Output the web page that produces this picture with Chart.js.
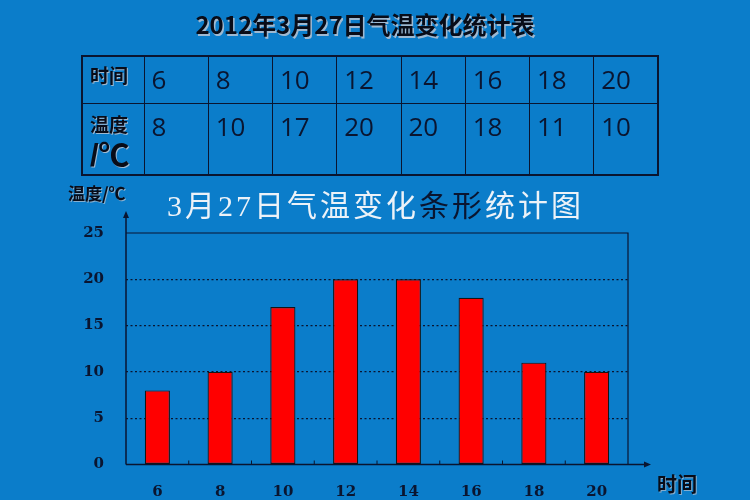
<!DOCTYPE html>
<html><head><meta charset="utf-8">
<script src="https://cdn.jsdelivr.net/npm/chart.js@4.4.1/dist/chart.umd.min.js"></script>
<style>
html,body{margin:0;padding:0;background:#0b7dca;width:750px;height:500px;overflow:hidden;}
#wrap{position:relative;width:750px;height:500px;}
canvas{position:absolute;left:0;top:0;}
.t1{position:absolute;left:0;width:730px;top:9px;text-align:center;font-family:"Noto Sans CJK SC";font-weight:bold;font-size:24px;line-height:30px;color:#080c18;text-shadow:1.5px 1.5px 0 rgba(185,195,210,.85);white-space:nowrap;}
table{position:absolute;left:81px;top:55px;width:578px;height:121px;border-collapse:collapse;table-layout:fixed;border:2px solid #0a1530;}
td{border:1px solid #0a1530;vertical-align:top;padding:0;font-family:"Open Sans";font-size:26px;line-height:26px;color:#0a1530;}
td.v{padding-left:7px;}
tr.r1 td{height:37px;padding-top:9px;}
tr.r1 td.h{height:39px;padding-top:7px;}
tr.r2 td{padding-top:9px;}
td.h{font-family:"Noto Sans CJK SC";font-weight:bold;font-size:19px;line-height:22px;color:#080c18;text-shadow:1px 1px 0 rgba(185,195,210,.85);padding-left:7px;}
.big{display:inline-block;margin-top:3px;font-size:31px;line-height:36px;font-family:"Liberation Sans","Noto Sans CJK SC";font-weight:bold;}
.ylab{position:absolute;left:68px;top:183px;font-family:"Noto Sans CJK SC";font-weight:bold;font-size:17px;line-height:20px;color:#080c18;text-shadow:1px 1px 0 rgba(185,195,210,.7);white-space:nowrap;}
.xlab{position:absolute;left:657px;top:471px;font-family:"Noto Sans CJK SC";font-weight:bold;font-size:20px;line-height:26px;color:#080c18;text-shadow:1px 1px 0 rgba(185,195,210,.7);white-space:nowrap;}
</style>
</head><body>
<div id="wrap">
<canvas id="c" width="750" height="500"></canvas>
<div class="t1">2012年3月27日气温变化统计表</div>
<table id="tbl"></table>
<div class="ylab">温度/℃</div>
<div class="xlab">时间</div>
</div>
<script>
const hours = ['6','8','10','12','14','16','18','20'];
const temps = [8, 10, 17, 20, 20, 18, 11, 10];
const yMax = 25;
const yStep = 5;
const dark = '#0a1530';
// chart title split into coloured parts
const titleParts = [['3月27日气温变化', 'rgb(236,242,248)'], ['条形', dark], ['统计图', 'rgb(236,242,248)']];

// build table from the data arrays
const tbl = document.getElementById('tbl');
let cg = '<colgroup><col style="width:62px">' + hours.map(()=>'<col>').join('') + '</colgroup>';
let r1 = '<tr class="r1"><td class="h">时间</td>' + hours.map(h=>'<td class="v">'+h+'</td>').join('') + '</tr>';
let r2 = '<tr class="r2"><td class="h">温度<br><span class="big">/℃</span></td>' + temps.map(t=>'<td class="v">'+t+'</td>').join('') + '</tr>';
tbl.innerHTML = cg + r1 + r2;

const titlePlugin = {
  id: 'multiTitle',
  afterDraw(chart) {
    const ctx = chart.ctx;
    ctx.save();
    ctx.font = '30px "Liberation Serif", "Noto Sans CJK SC"';
    ctx.textBaseline = 'alphabetic';
    ctx.textAlign = 'left';
    let x = 167;
    const y = 216;
    titleParts.forEach(function (part) {
      const txt = part[0];
      for (const ch of txt) {
        ctx.fillStyle = part[1];
        ctx.fillText(ch, x, y);
        x += ctx.measureText(ch).width + 3;
      }
    });
    ctx.restore();
  }
};
const framePlugin = {
  id: 'frame',
  afterDatasetsDraw(chart) {
    const {ctx, chartArea: a, scales: {x}} = chart;
    ctx.save();
    ctx.strokeStyle = dark;
    ctx.fillStyle = dark;
    ctx.lineWidth = 1.2;
    ctx.beginPath();
    ctx.moveTo(a.left, a.top); ctx.lineTo(a.right, a.top); ctx.lineTo(a.right, a.bottom);
    ctx.stroke();
    ctx.lineWidth = 1.5;
    ctx.beginPath();
    ctx.moveTo(a.left, a.bottom); ctx.lineTo(a.left, a.top - 19);
    ctx.stroke();
    ctx.beginPath();
    ctx.moveTo(a.left, a.top - 22); ctx.lineTo(a.left - 3, a.top - 15); ctx.lineTo(a.left + 3, a.top - 15); ctx.closePath();
    ctx.fill();
    ctx.beginPath();
    ctx.moveTo(a.left, a.bottom); ctx.lineTo(a.right + 19, a.bottom);
    ctx.stroke();
    ctx.beginPath();
    ctx.moveTo(a.right + 23, a.bottom); ctx.lineTo(a.right + 16, a.bottom - 3); ctx.lineTo(a.right + 16, a.bottom + 3); ctx.closePath();
    ctx.fill();
    ctx.lineWidth = 1;
    for (let i = 0; i < hours.length - 1; i++) {
      const bx = (x.getPixelForValue(i) + x.getPixelForValue(i + 1)) / 2;
      ctx.beginPath(); ctx.moveTo(bx, a.bottom); ctx.lineTo(bx, a.bottom - 4); ctx.stroke();
    }
    ctx.restore();
  }
};

new Chart(document.getElementById('c'), {
  type: 'bar',
  data: {
    labels: hours,
    datasets: [{
      data: temps,
      backgroundColor: '#ff0000',
      borderColor: '#151515',
      borderWidth: 1.2,
      borderSkipped: false,
      barPercentage: 0.4,
      categoryPercentage: 1.0
    }]
  },
  options: {
    responsive: false,
    animation: false,
    layout: { padding: { top: 233, right: 122, left: 0, bottom: 0 } },
    plugins: { legend: { display: false }, tooltip: { enabled: false }, title: { display: false } },
    scales: {
      x: {
        afterFit(s) { s.height = 35.5; },
        grid: { display: false, drawTicks: false },
        border: { display: false },
        ticks: { padding: 19, color: dark, font: { family: 'DejaVu Serif', weight: 'bold', size: 15 } }
      },
      y: {
        min: 0, max: yMax,
        afterFit(s) { s.width = 126; },
        grid: {
          drawTicks: false,
          color: (c) => (c.tick && (c.tick.value === 0 || c.tick.value === yMax)) ? 'rgba(0,0,0,0)' : dark,
          lineWidth: 1.2
        },
        border: { display: false, dash: [2, 2.5] },
        ticks: { stepSize: yStep, padding: 22, color: dark, font: { family: 'DejaVu Serif', weight: 'bold', size: 15 } }
      }
    }
  },
  plugins: [framePlugin, titlePlugin]
});
</script>
</body></html>
